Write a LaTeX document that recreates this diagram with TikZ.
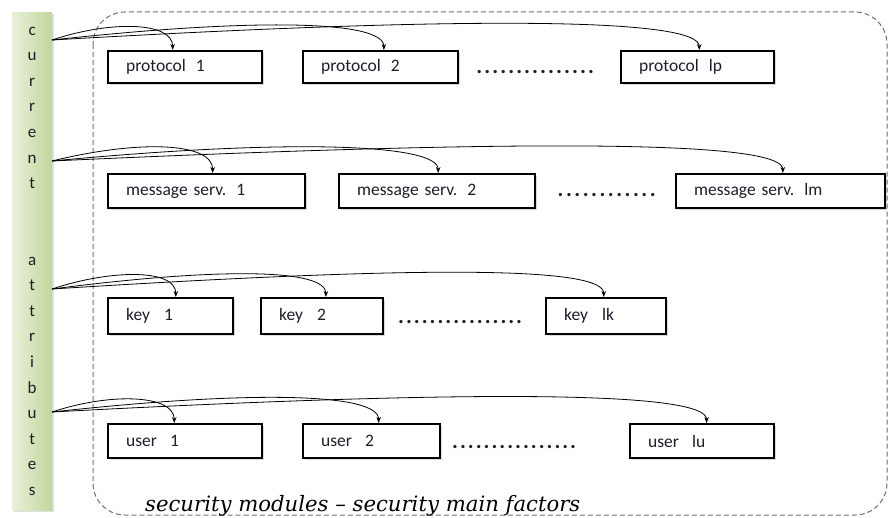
\documentclass[tikz,border=0pt]{standalone}
\usepackage{fontspec}
\setmainfont{Carlito}
\newfontfamily\capfont{DejaVu Serif}
\usetikzlibrary{shadows,arrows.meta,calc}

\definecolor{barlight}{HTML}{E9F0DA}
\definecolor{bardark}{HTML}{C2D69B}
\definecolor{framegray}{HTML}{6E6E6E}
\definecolor{inktext}{HTML}{1E1E2A}

% a run of evenly spaced periods of the given width
\newcommand\periodrun[1]{\hbox to #1{\xleaders\hbox to 7.8pt{\hss.\hss}\hfill}}

\begin{document}
\begin{tikzpicture}[x=1pt,y=-1pt,
  modbox/.style={draw=black, line width=2.4pt, fill=white, anchor=north west,
    inner xsep=18pt, inner ysep=0pt, align=left, text=inktext,
    font=\fontsize{17.5}{20}\selectfont,
    drop shadow={shadow xshift=1.6pt, shadow yshift=-1.6pt, opacity=0.3}},
  periods/.style={inner sep=0pt, anchor=base west, text=inktext,
    font=\fontsize{22}{24}\selectfont\bfseries},
  conn/.style={line width=0.8pt, -{Stealth[length=6pt,width=4.5pt]}},
  border/.style={draw=framegray, line width=1pt, dash pattern=on 5pt off 3pt,
    rounded corners=32pt}]

\useasboundingbox (0,0) rectangle (889,518);

% dashed frame round the modules
\draw[border] (93,12) rectangle (887,515);

% attribute bar
\node (bar) [anchor=north west, minimum width=40pt, minimum height=498pt,
  inner sep=0pt, left color=barlight, right color=bardark, align=center,
  text=inktext, font=\fontsize{17}{25.56}\selectfont,
  drop shadow={shadow xshift=1.6pt, shadow yshift=-1.6pt, opacity=0.25}]
  at (12,12)
  {c\\u\\r\\r\\e\\n\\t\\~\\~\\a\\t\\t\\r\\i\\b\\u\\t\\e\\s};

\coordinate (s1) at (52,40);
\coordinate (s2) at (52,161);
\coordinate (s3) at (52,289);
\coordinate (s4) at (52,412);

% protocols
\node (p1) [modbox, minimum height=32pt, text width=118pt] at (107,50) {protocol\hspace{10pt}1};
\node (p2) [modbox, minimum height=32pt, text width=119pt] at (302,50) {protocol\hspace{10pt}2};
\node (pd) [periods] at (475,74) {\periodrun{120pt}};
\node (pl) [modbox, minimum height=32pt, text width=117pt] at (620,50) {protocol\hspace{10pt}lp};

% message services
\node (m1) [modbox, minimum height=34pt, text width=161pt] at (107,173) {message serv.\hspace{10pt}1};
\node (m2) [modbox, minimum height=34pt, text width=160pt] at (338,173) {message serv.\hspace{10pt}2};
\node (md) [periods] at (556,197) {\periodrun{101pt}};
\node (ml) [modbox, minimum height=34pt, text width=173pt] at (675,173) {message serv.\hspace{10pt}lm};

% keys
\node (k1) [modbox, minimum height=36pt, text width=89pt] at (107,297) {key\hspace{14pt}1};
\node (k2) [modbox, minimum height=36pt, text width=86pt] at (260,297) {key\hspace{14pt}2};
\node (kd) [periods] at (397,324) {\periodrun{126pt}};
\node (kl) [modbox, minimum height=36pt, text width=84pt] at (545,297) {key\hspace{14pt}lk};

% users
\node (u1) [modbox, minimum height=34pt, text width=118pt] at (107,423) {user\hspace{13pt}1};
\node (u2) [modbox, minimum height=34pt, text width=101pt] at (302,423) {user\hspace{13pt}2};
\node (ud) [periods] at (451,448) {\periodrun{126pt}};
\node (ul) [modbox, minimum height=34pt, text width=108pt] at (629,423) {user\hspace{13pt}lu};

% links from the attribute bar to each module
\draw[conn] (s1) .. controls +(60,-20) and +(0,-28) .. ($(p1.north west)!.42!(p1.north east)$);
\draw[conn] (s1) .. controls +(200,-22) and +(0,-30) .. ($(p2.north west)!.52!(p2.north east)$);
\draw[conn] (s1) .. controls +(450,-26) and +(0,-30) .. ($(pl.north west)!.51!(pl.north east)$);

\draw[conn] (s2) .. controls +(90,-22) and +(0,-30) .. ($(m1.north west)!.53!(m1.north east)$);
\draw[conn] (s2) .. controls +(230,-22) and +(0,-30) .. ($(m2.north west)!.505!(m2.north east)$);
\draw[conn] (s2) .. controls +(520,-24) and +(0,-30) .. ($(ml.north west)!.51!(ml.north east)$);

\draw[conn] (s3) .. controls +(60,-20) and +(0,-28) .. ($(k1.north west)!.54!(k1.north east)$);
\draw[conn] (s3) .. controls +(170,-22) and +(0,-28) .. ($(k2.north west)!.53!(k2.north east)$);
\draw[conn] (s3) .. controls +(380,-24) and +(0,-30) .. ($(kl.north west)!.48!(kl.north east)$);

\draw[conn] (s4) .. controls +(60,-20) and +(0,-28) .. ($(u1.north west)!.43!(u1.north east)$);
\draw[conn] (s4) .. controls +(200,-22) and +(0,-30) .. ($(u2.north west)!.55!(u2.north east)$);
\draw[conn] (s4) .. controls +(450,-24) and +(0,-30) .. ($(ul.north west)!.53!(ul.north east)$);

% caption along the bottom of the frame
\node (cap) [anchor=base west, inner sep=0pt, font=\capfont\itshape\fontsize{21.2}{23}\selectfont]
  at (145,511) {security modules – security main factors};

\end{tikzpicture}
\end{document}
